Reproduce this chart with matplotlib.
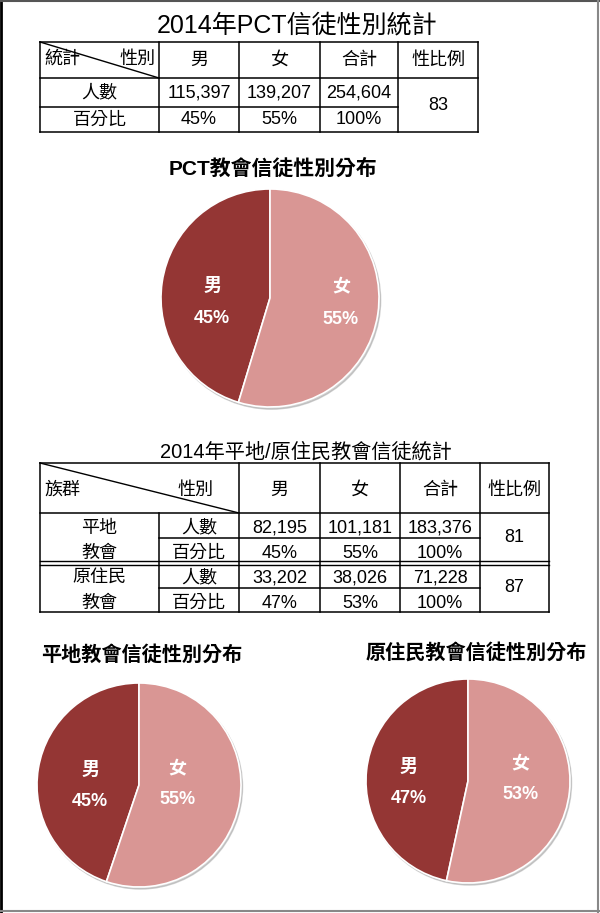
import matplotlib.pyplot as plt
from matplotlib.patches import Circle

plt.rcParams['font.family'] = ['Liberation Sans', 'Noto Sans CJK TC']

W, H = 600, 913

# ---- data ----
sexes = ["男", "女"]
total_label = "合計"
ratio_label = "性比例"

all_counts = [115397, 139207]
all_total = 254604
all_pct = ["45%", "55%", "100%"]
all_ratio = 83

group_names = ["平地\n教會", "原住民\n教會"]
plain_counts = [82195, 101181]
plain_total = 183376
plain_pct = ["45%", "55%", "100%"]
plain_ratio = 81

abor_counts = [33202, 38026]
abor_total = 71228
abor_pct = ["47%", "53%", "100%"]
abor_ratio = 87

male_color = "#943634"
female_color = "#d99694"

fig = plt.figure(figsize=(W / 100, H / 100), dpi=100)
base = fig.add_axes([0, 0, 1, 1])
base.set_xlim(0, W)
base.set_ylim(H, 0)
base.axis("off")


def hline(y, x0, x1, lw=1.1):
    base.plot([x0, x1], [y, y], color="black", lw=lw, solid_capstyle="projecting")


def vline(x, y0, y1, lw=1.1):
    base.plot([x, x], [y0, y1], color="black", lw=lw, solid_capstyle="projecting")


def cell_text(x, y, s, ha="center", size=13):
    base.text(x, y, s, ha=ha, va="center", fontsize=size, color="black")


# page frame
base.plot([1, 1], [0, H], color="black", lw=2)
base.plot([0, W], [1, 1], color="#555555", lw=1.5)
base.plot([597.5, 597.5], [0, H], color="#888888", lw=1.5)
base.plot([0, W], [911, 911], color="#888888", lw=1.5)

# ---- table 1 ----
base.text(297, 25, "2014年PCT信徒性別統計", ha="center", va="center", fontsize=18)
c = [40, 159, 239, 320, 398, 478]
r = [42, 78, 107, 132]
for x in c:
    vline(x, r[0], r[-1])
hline(r[0], c[0], c[-1])
hline(r[1], c[0], c[-1])
hline(r[2], c[0], c[-2])
hline(r[3], c[0], c[-1])
base.plot([c[0], c[1]], [r[0], r[1]], color="black", lw=1.0)
cell_text(c[0] + 4, 59, "統計", ha="left")
cell_text(c[1] - 4, 59, "性別", ha="right")
heads = sexes + [total_label, ratio_label]
for i, s in enumerate(heads):
    cell_text((c[i + 1] + c[i + 2]) / 2, 60, s)
cell_text((c[0] + c[1]) / 2, 93, "人數")
cell_text((c[0] + c[1]) / 2, 120, "百分比")
vals = all_counts + [all_total]
for i, v in enumerate(vals):
    cell_text((c[i + 1] + c[i + 2]) / 2, 93, f"{v:,}")
    cell_text((c[i + 1] + c[i + 2]) / 2, 120, all_pct[i])
cell_text((c[4] + c[5]) / 2, 105, str(all_ratio))

# ---- table 2 ----
base.text(306, 452, "2014年平地/原住民教會信徒統計", ha="center", va="center", fontsize=14.5)
c = [40, 159, 239, 320, 400, 480, 549]
r = [463, 513, 538, 563, 588, 612]
for i, x in enumerate(c):
    vline(x, r[1] if i == 1 else r[0], r[-1])
hline(r[0], c[0], c[-1])
hline(r[1], c[0], c[-1])
hline(r[2], c[1], c[-2])
hline(r[3] - 2, c[0], c[-1], lw=1.0)
hline(r[3] + 2, c[0], c[-1], lw=1.0)
hline(r[4], c[1], c[-2])
hline(r[5], c[0], c[-1])
base.plot([c[0], c[2]], [r[0], r[1]], color="black", lw=1.0)
cell_text(c[0] + 4, 490, "族群", ha="left")
cell_text(c[2] - 26, 490, "性別", ha="right")
for i, s in enumerate(heads):
    cell_text((c[i + 2] + c[i + 3]) / 2, 490, s)

blocks = [
    (group_names[0], plain_counts + [plain_total], plain_pct, plain_ratio, r[1]),
    (group_names[1], abor_counts + [abor_total], abor_pct, abor_ratio, r[3]),
]
for name, vals, pcts, ratio, top in blocks:
    y1, y2 = top + 15, top + 40
    first, second = name.split("\n")
    cell_text((c[0] + c[1]) / 2, y1, first)
    cell_text((c[0] + c[1]) / 2, y2, second)
    cell_text((c[1] + c[2]) / 2, y1, "人數")
    cell_text((c[1] + c[2]) / 2, y2, "百分比")
    for i, v in enumerate(vals):
        cell_text((c[i + 2] + c[i + 3]) / 2, y1, f"{v:,}")
        cell_text((c[i + 2] + c[i + 3]) / 2, y2, pcts[i])
    cell_text((c[5] + c[6]) / 2, top + 25, str(ratio))


# ---- pies ----
def draw_pie(cx, cy, rad, counts, pcts, title, tx, ty, tsize, label_pos):
    base.text(tx, ty, title, ha="center", va="center", fontsize=tsize,
              fontweight="bold")
    pad = 1.1
    ax = fig.add_axes([(cx - pad * rad) / W, 1 - (cy + pad * rad) / H,
                       2 * pad * rad / W, 2 * pad * rad / H])
    ax.patch.set_alpha(0)
    ax.add_patch(Circle((0.015, -0.02), 1.0, color="#9a9a9a", alpha=0.45, zorder=0))
    ax.pie(counts, colors=[male_color, female_color], startangle=90,
           counterclock=True, radius=1.0,
           wedgeprops=dict(edgecolor="white", linewidth=1.2))
    # labels were nudged by hand in the original, positions in radius units
    for (lx, ly), s, p in zip(label_pos, sexes, pcts):
        ax.text(lx, ly + 0.15, s, ha="center", va="center", color="white",
                fontsize=13, fontweight="bold")
        ax.text(lx, ly - 0.15, p, ha="center", va="center", color="white",
                fontsize=13, fontweight="bold")
    ax.set_xlim(-pad, pad)
    ax.set_ylim(-pad, pad)
    ax.set_aspect("auto")
    ax.axis("off")


draw_pie(270, 298, 109, all_counts, all_pct[:2], "PCT教會信徒性別分布", 273, 169, 15,
         [(-0.53, -0.04), (0.65, -0.05)])
draw_pie(139, 785, 102, plain_counts, plain_pct[:2], "平地教會信徒性別分布", 142, 655, 14.5,
         [(-0.48, -0.01), (0.38, 0.01)])
draw_pie(468, 781, 102, abor_counts, abor_pct[:2], "原住民教會信徒性別分布", 476, 653, 14.5,
         [(-0.58, -0.02), (0.51, 0.02)])

fig.savefig("out.png", dpi=100)
